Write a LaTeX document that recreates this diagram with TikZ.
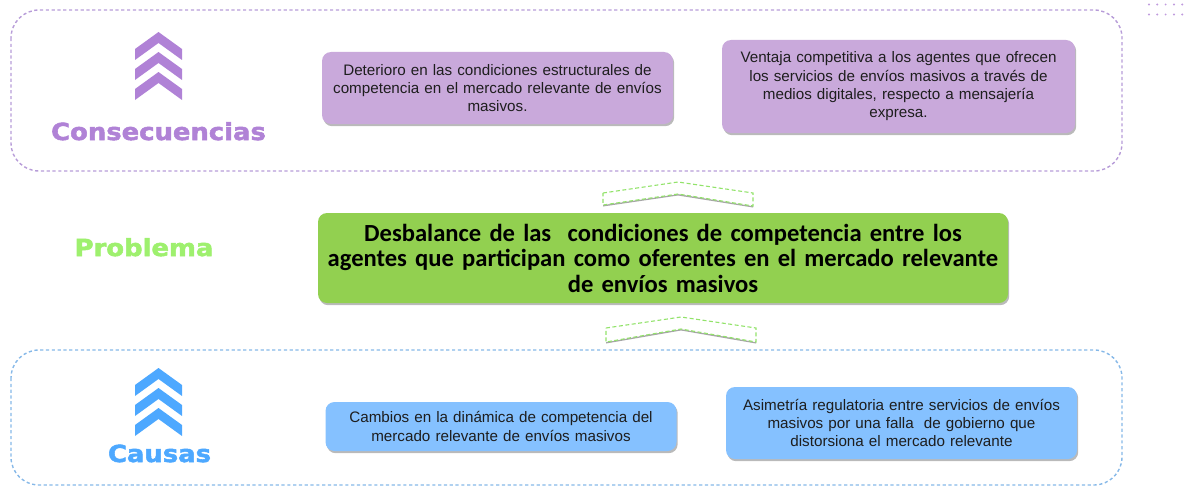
\documentclass[tikz,border=0pt]{standalone}
\usepackage{fontspec}
\setmainfont{Liberation Sans}
\newfontfamily\calib{Carlito}
\newfontfamily\heavy[FakeStretch=1.1,FakeBold=2.2]{DejaVu Sans}
\usetikzlibrary{shadows}
\definecolor{purpBorder}{HTML}{B79CD8}
\definecolor{purpFill}{HTML}{C9A9DB}
\definecolor{purpMain}{HTML}{B082D6}
\definecolor{blueBorder}{HTML}{86B8E8}
\definecolor{blueFill}{HTML}{85C1FF}
\definecolor{blueMain}{HTML}{4DA8FF}
\definecolor{greenFill}{HTML}{92D050}
\definecolor{greenText}{HTML}{9EF06E}
\definecolor{greenLine}{HTML}{92E36A}
\definecolor{txt}{HTML}{1E1E1E}
\tikzset{
  boxbase/.style={rounded corners=9pt, align=center, inner sep=3pt, text=txt,
    drop shadow={shadow xshift=1.2pt, shadow yshift=-2.2pt, fill=black!60, opacity=0.45}},
  smalltxt/.style={font=\fontsize{15.2}{18.3}\selectfont},
  purpbox/.style={boxbase, smalltxt, fill=purpFill},
  bluebox/.style={boxbase, smalltxt, fill=blueFill},
  greenbox/.style={boxbase, fill=greenFill, text=black,
    font=\calib\bfseries\fontsize{24.6}{25.5}\selectfont},
  frame/.style={line width=1.4pt, dash pattern=on 3.2pt off 2.6pt, rounded corners=28pt},
  heading/.style={font=\heavy\bfseries\fontsize{23.5}{26}\selectfont, inner sep=0pt},
  outlinechev/.style={draw=greenLine, line width=1.1pt, dash pattern=on 4pt off 2.5pt, fill=white}
}
\begin{document}
\begin{tikzpicture}[x=1pt,y=-1pt]
\useasboundingbox (0,0) rectangle (1188,487);
% frames
\draw[frame, draw=purpBorder] (11,10) rectangle (1122,171);
\draw[frame, draw=blueBorder] (11,350) rectangle (1122,485);
% dots top right
\foreach \yy in {4.5,14.5} \foreach \xx in {1149,1157.3,1165.6,1173.9,1182.2}
  \fill[purpMain!80] (\xx,\yy) circle (1.1pt);
% purple chevrons
\foreach \a in {32,52,72}
  \fill[purpMain] (135,\a+17) -- (158.5,\a) -- (182,\a+17) -- (182,\a+28) -- (158.5,\a+11) -- (135,\a+28) -- cycle;
% blue chevrons
\foreach \a in {368,388,408}
  \fill[blueMain] (135,\a+17) -- (158.5,\a) -- (182,\a+17) -- (182,\a+28) -- (158.5,\a+11) -- (135,\a+28) -- cycle;
% headings
\node[heading, text=purpMain, anchor=base] (hcons) at (158.5,140) {Consecuencias};
\node[heading, text=greenText, anchor=base] (hprob) at (144,256) {Problema};
\node[heading, text=blueMain, anchor=base] (hcaus) at (159.5,462) {Causas};
% green outline chevrons
\fill[black!35] (603,206.5) -- (678,195.5) -- (753,207.5) -- (753,206) -- (678,194) -- (603,205) -- cycle;
\draw[outlinechev] (603,193) -- (678,182) -- (753,193) -- (753,206) -- (678,194) -- (603,205) -- cycle;
\fill[black!35] (606,343.5) -- (681,330.5) -- (756,343.5) -- (756,342) -- (681,329) -- (606,342) -- cycle;
\draw[outlinechev] (606,328) -- (681,317) -- (756,328) -- (756,342) -- (681,329) -- (606,342) -- cycle;
% boxes
\node[purpbox, minimum width=351pt, minimum height=72pt, text width=345pt] (c1) at (497.5,88)
  {Deterioro en las condiciones estructurales de\\competencia en el mercado relevante de envíos\\masivos.};
\node[purpbox, minimum width=353pt, minimum height=93pt, text width=345pt] (c2) at (898.5,86.5)
  {Ventaja competitiva a los agentes que ofrecen\\los servicios de envíos masivos a través de\\medios digitales, respecto a mensajería\\expresa.};
\node[greenbox, minimum width=690pt, minimum height=90pt, text width=684pt] (prob) at (663,258)
  {Desbalance de las \ condiciones de competencia entre los\\agentes que participan como oferentes en el mercado relevante\\de envíos masivos};
\node[bluebox, minimum width=350pt, minimum height=49pt, text width=345pt] (b1) at (501,426.5)
  {Cambios en la dinámica de competencia del\\mercado relevante de envíos masivos};
\node[bluebox, minimum width=351pt, minimum height=72pt, text width=345pt] (b2) at (901.5,423)
  {Asimetría regulatoria entre servicios de envíos\\masivos por una falla \ de gobierno que\\distorsiona el mercado relevante};
\end{tikzpicture}
\end{document}
